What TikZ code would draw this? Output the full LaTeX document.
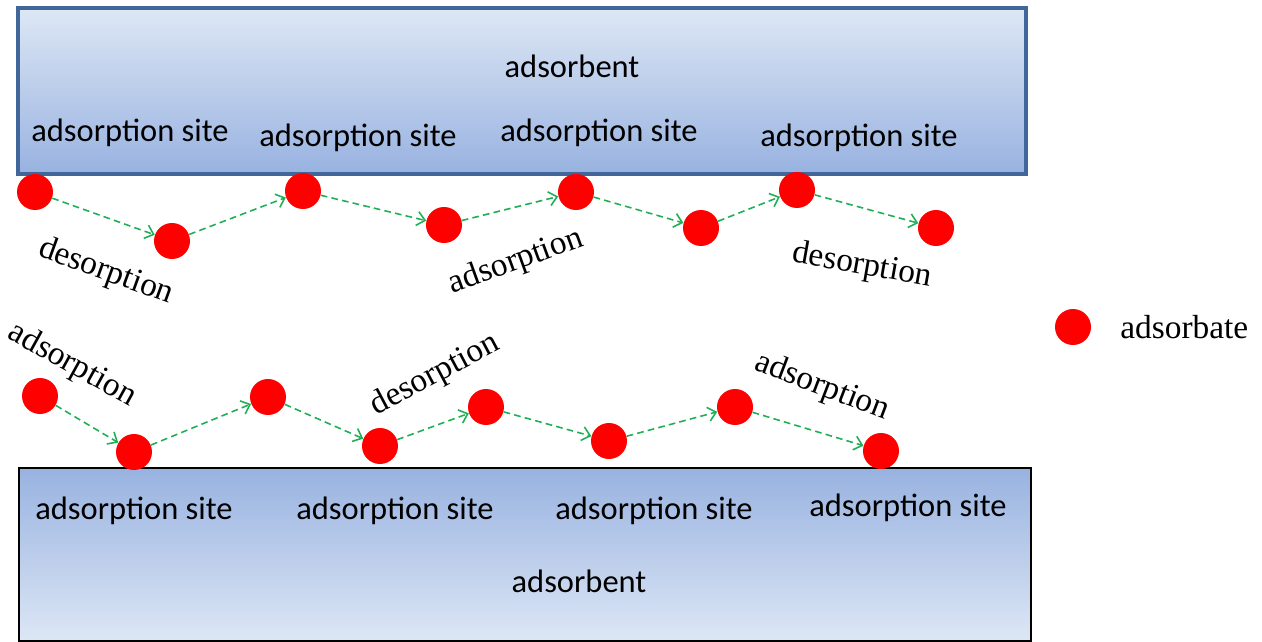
\documentclass[tikz,border=0pt]{standalone}
\usepackage{fontspec}
\setmainfont{Liberation Serif}
\newfontfamily\sitefont{Carlito}
\newfontfamily\wordfont{Liberation Serif}
\usetikzlibrary{arrows.meta,positioning}
\definecolor{edgeblue}{HTML}{41679A}
\definecolor{paleblue}{HTML}{DDE7F5}
\definecolor{deepblue}{HTML}{98B2E0}
\definecolor{hopgreen}{HTML}{1FAF55}
\tikzset{
  ball/.style={circle,fill=red,minimum size=0.72cm,inner sep=0pt},
  hop/.style={hopgreen,line width=0.9pt,dash pattern=on 3.8pt off 2.4pt,
    -{Straight Barb[length=4.5pt,width=8pt]}},
  site/.style={font=\sitefont\fontsize{18.5}{22}\selectfont,inner sep=0pt},
  word/.style={font=\wordfont\fontsize{19}{22}\selectfont,inner sep=0pt}
}
\begin{document}
\begin{tikzpicture}[x=0.02cm,y=-0.02cm]
\useasboundingbox (0,0) rectangle (1262,642);
% the two adsorbent plates
\draw[edgeblue,line width=1.8pt,top color=paleblue,bottom color=deepblue] (18,8) rectangle (1026,174);
\draw[black,line width=1.6pt,top color=deepblue,bottom color=paleblue] (19,468) rectangle (1031,641);
\node[site] (topname) at (572,66) {adsorbent};
\node[site] (botname) at (579,581) {adsorbent};
\foreach \x/\y [count=\i] in {130/133,358/138,599/133,859/138}{\node[site] (tsite\i) at (\x,\y) {adsorption site};}
\foreach \x/\y [count=\i] in {134/511,395/511,654/511,908/508}{\node[site] (bsite\i) at (\x,\y) {adsorption site};}
% adsorbate particles hopping along each plate
\foreach \x/\y [count=\i] in {35/192,172/241,303/191,444/225,576/192,701/228,797/190,936/228}{\node[ball] (t\i) at (\x,\y) {};}
\foreach \x/\y [count=\i] in {40/396,134/452,268/397,380/446,486/407,609/441,735/407,881/451}{\node[ball] (b\i) at (\x,\y) {};}
\foreach \i [evaluate=\i as \j using int(\i+1)] in {1,...,7}{
  \draw[hop] (t\i) -- (t\j);
  \draw[hop] (b\i) -- (b\j);
}
\node[word,rotate=-20] (tdes1) at (106,272) {desorption};
\node[word,rotate=20] (tads1) at (516,262) {adsorption};
\node[word,rotate=-10] (tdes2) at (862,266) {desorption};
\node[word,rotate=-29] (bads1) at (72,365) {adsorption};
\node[word,rotate=28] (bdes1) at (435,375) {desorption};
\node[word,rotate=-21] (bads2) at (822,387) {adsorption};
% legend
\node[ball] (key) at (1073,327) {};
\node[word,anchor=west] (keytext) at (1120,327) {adsorbate};
\end{tikzpicture}
\end{document}
